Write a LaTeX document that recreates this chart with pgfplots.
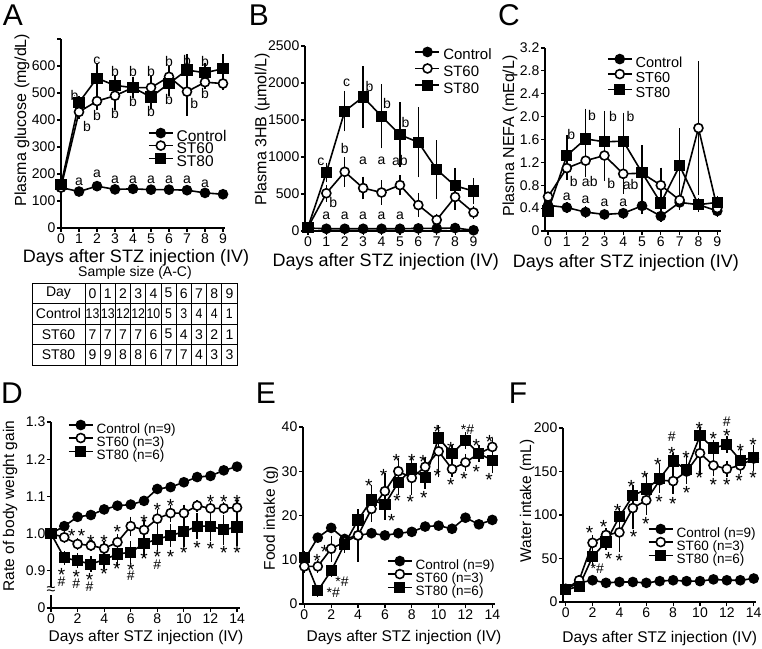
\documentclass[border=0pt]{standalone}
\usepackage{fontspec}
\setmainfont{Liberation Sans}
\usepackage{graphicx}
\usepackage{pgfplots}
\usepackage{pgfplotstable}
\pgfplotsset{compat=1.18}
\newcommand\fs[1]{\fontsize{#1}{#1}\selectfont}
\pgfplotsset{
 panel/.style={scale only axis, anchor=south west, axis lines=left,
   axis line style={-, line width=1.5pt, black},
   tick align=outside, major tick length=4pt, tick style={line width=1.2pt,black},
   ticklabel style={font=\fs{14}, inner sep=1.5pt},
   label style={font=\fs{16}},
   xlabel style={anchor=center}, ylabel style={anchor=center},
   clip=false,
   legend cell align=left,
   legend style={draw=none, fill=none, inner sep=0pt, outer sep=0pt, font=\fs{14},
     nodes={inner sep=0pt, text height=9pt, text depth=2pt}, anchor=north west,
     /tikz/every odd column/.style={column sep=3pt}},
   legend image code/.code={\draw[mark repeat=2, mark phase=2, ##1] plot coordinates {(0pt,4.5pt) (12pt,4.5pt) (24pt,4.5pt)};},
 },
 ctrl/.style={black, line width=1.6pt, mark=*, mark size=4.5pt, mark options={fill=black, solid}},
 s60/.style={black, line width=1.6pt, mark=*, mark size=4.5pt, mark options={fill=white, solid}},
 s80/.style={black, line width=1.6pt, mark=square*, mark size=4.8pt, mark options={fill=black, solid}},
 eb/.style={forget plot, only marks, mark=none, black, error bars/.cd, y dir=both, y explicit, error bar style={line width=1.4pt, black}, error mark options={mark size=4pt, line width=1.4pt, black}},
 ann/.style={only marks, mark=*, mark size=0.1pt, mark options={draw=none,fill=none}, nodes near coords, point meta=explicit symbolic,
   every node near coord/.style={anchor=center, inner sep=0pt, font=\fs{14}, black}},
 stars/.style={only marks, mark=*, mark size=0.1pt, mark options={draw=none,fill=none}, nodes near coords={*},
   every node near coord/.style={anchor=center, inner sep=0pt, font=\fs{19}, yshift=-4.3pt, black}},
}
% ---------------- data ----------------
\pgfplotstableread{
x y e
0 150 0
1 430 10
2 470 20
3 490 40
4 520 15
5 520 30
6 560 25
7 505 75
8 540 10
9 535 10
}\Asix
\pgfplotstableread{
x y e
0 160 0
1 465 10
2 555 40
3 528 25
4 520 25
5 485 30
6 535 30
7 585 45
8 575 20
9 590 40
}\Aeight
\pgfplotstableread{
x y e
0 50 0
1 510 60
2 800 145
3 580 100
4 520 110
5 620 80
6 350 110
7 150 30
8 460 120
9 250 30
}\Bsix
\pgfplotstableread{
x y e
0 50 0
1 790 80
2 1620 220
3 1810 360
4 1550 380
5 1300 385
6 1200 420
7 830 340
8 610 190
9 540 125
}\Beight
\pgfplotstableread{
x y e
0 0.45 0
1 0.41 0.03
2 0.33 0.03
3 0.29 0.03
4 0.31 0.03
5 0.44 0.08
6 0.26 0.03
7 0.50 0.03
8 0.46 0.03
9 0.35 0.03
}\Cctrl
\pgfplotstableread{
x y e
0 0.6 0
1 1.1 0.13
2 1.23 0.22
3 1.32 0.38
4 1.0 0.28
5 1.01 0.25
6 0.8 0.24
7 0.54 0.1
8 1.8 1.1
9 0.4 0.05
}\Csix
\pgfplotstableread{
x y e
0 0.35 0
1 1.32 0.28
2 1.61 0.46
3 1.56 0.47
4 1.57 0.43
5 1.02 0.41
6 0.49 0.1
7 1.14 0.59
8 0.46 0.05
9 0.5 0.05
}\Ceight
\pgfplotstableread{
x y e
0 1.0 0
1 0.99 0.005
2 0.972 0.005
3 0.968 0.005
4 0.96 0.01
5 0.977 0.01
6 1.02 0.015
7 1.01 0.015
8 1.04 0.015
9 1.055 0.012
10 1.055 0.012
11 1.075 0.005
12 1.068 0.01
13 1.068 0.005
14 1.07 0.01
}\Dsix
\pgfplotstableread{
x y e
0 1.0 0
1 0.935 0.008
2 0.927 0.01
3 0.918 0.01
4 0.93 0.015
5 0.945 0.02
6 0.95 0.02
7 0.973 0.025
8 0.985 0.02
9 0.995 0.02
10 1.005 0.03
11 1.02 0.025
12 1.02 0.03
13 1.01 0.03
14 1.018 0.04
}\Deight
\pgfplotstableread{
x y e
0 8.5 0.5
1 8.5 0.5
2 12.5 2
3 14 1
4 15.5 5
5 21.5 2
6 25.5 3.2
7 30 2
8 28.5 3
9 31 1
10 34.5 5
11 30.5 1
12 32 1
13 34 1
14 35.5 1
}\Esix
\pgfplotstableread{
x y e
0 10.5 0.5
1 3 0.5
2 7.5 0.5
3 13.5 1
4 19 1.5
5 23.5 2.5
6 22.5 2.5
7 27.5 2
8 30.5 1.5
9 28.5 1.5
10 37.5 1
11 34 1
12 37 1
13 34 1
14 32.5 2
}\Eeight
\pgfplotstableread{
x y e
0 15 0
1 25 2
2 68 4
3 77 3
4 80 18
5 108 20
6 117 12
7 140 8
8 139 10
9 150 8
10 171 20
11 157 8
12 153 5
13 157 5
14 165 10
}\Fsix
\pgfplotstableread{
x y e
0 14 0
1 18 2
2 52 5
3 69 5
4 98 5
5 122 8
6 130 12
7 142 12
8 162 5
9 152 12
10 191 5
11 177 5
12 181 5
13 163 8
14 166 10
}\Feight
\newcommand\tb[1]{\scalebox{0.88}[1]{#1}}
\begin{document}
\begin{tikzpicture}
\path[use as bounding box] (0,0) rectangle (762pt,648pt);

% ---------- A ----------
\begin{axis}[panel, at={(61pt,420pt)}, width=163.8pt, height=189pt,
  xmin=0,xmax=9.1,ymin=0,ymax=700,
  xtick={0,1,2,3,4,5,6,7,8,9}, xticklabels={0,1,2,3,4,5,6,7,8,9},
  ytick={0,100,200,300,400,500,600,700}, yticklabels={0,100,200,300,400,500,600,{}},
  xlabel={Days after STZ injection (IV)}, ylabel={Plasma glucose (mg/dL)},
  xlabel style={font=\fs{18}, at={(axis description cs:0.458,-0.159)}},
  ylabel style={at={(axis description cs:-0.238,0.571)}},
  legend style={font=\fs{15.5}, at={(axis description cs:0.531,0.526)}, row sep=-2pt}]
\addplot[eb] table[x=x,y=y,y error=e] {\Asix};
\addplot[eb] table[x=x,y=y,y error=e] {\Aeight};
\addplot[ctrl] coordinates {(0,150)(1,135)(2,155)(3,143)(4,145)(5,142)(6,142)(7,140)(8,130)(9,125)};
\addplot[s60] table[x=x,y=y] {\Asix};
\addplot[s80] table[x=x,y=y] {\Aeight};
\legend{Control,ST60,ST80}
\addplot[ann] coordinates {(1,170)[a] (2,199)[a] (3,180)[a] (4,180)[a] (5,180)[a] (6,180)[a] (7,180)[a] (8,164)[a]
 (0.75,490)[b] (1.45,376)[b] (2,618)[c] (2,418)[b] (3,578)[b] (3,423)[b] (4,578)[b] (4,467)[b]
 (5,578)[b] (5,430)[b] (6,615)[b] (6,475)[b] (7,622)[b] (7.4,460)[b] (8,615)[b] (8,497)[b]};
\end{axis}

% ---------- B ----------
\begin{axis}[panel, at={(305pt,417pt)}, width=172.2pt, height=185pt,
  xmin=-0.16,xmax=9.2,ymin=0,ymax=2500,
  xtick={0,1,2,3,4,5,6,7,8,9}, xticklabels={0,1,2,3,4,5,6,7,8,9},
  ytick={0,500,1000,1500,2000,2500}, yticklabels={0,500,1000,1500,2000,2500},
  xlabel={Days after STZ injection (IV)}, ylabel={Plasma 3HB (µmol/L)},
  xlabel style={font=\fs{18}, at={(axis description cs:0.469,-0.168)}},
  ylabel style={at={(axis description cs:-0.249,0.551)}},
  legend style={font=\fs{15}, at={(axis description cs:0.637,0.992)}, row sep=2pt}]
\addplot[eb] table[x=x,y=y,y error=e] {\Bsix};
\addplot[eb] table[x=x,y=y,y error=e] {\Beight};
\addplot[ctrl] coordinates {(0,40)(1,30)(2,30)(3,30)(4,30)(5,30)(6,35)(7,35)(8,40)(9,10)};
\addplot[s60] table[x=x,y=y] {\Bsix};
\addplot[s80] table[x=x,y=y] {\Beight};
\legend{Control,ST60,ST80}
\addplot[ann] coordinates {(1,210)[a] (2,210)[a] (3,210)[a] (4,210)[a] (5,210)[a]
 (0.7,930)[c] (1.37,390)[b] (2,1120)[b] (2.1,2000)[c] (3.35,1950)[b] (4.3,1720)[b] (5.3,1470)[b]
 (3,950)[a] (4,950)[a] (5,950)[ab]};
\end{axis}

% ---------- C ----------
\begin{axis}[panel, at={(545pt,417pt)}, width=176pt, height=183pt,
  xmin=-0.16,xmax=9.2,ymin=0,ymax=3.2,
  xtick={0,1,2,3,4,5,6,7,8,9}, xticklabels={0,1,2,3,4,5,6,7,8,9},
  ytick={0,0.4,0.8,1.2,1.6,2.0,2.4,2.8,3.2}, yticklabels={0,0.4,0.8,1.2,1.6,2.0,2.4,2.8,3.2},
  xlabel={Days after STZ injection (IV)}, ylabel={Plasma NEFA (mEq/L)},
  xlabel style={font=\fs{18}, at={(axis description cs:0.46,-0.175)}},
  ylabel style={at={(axis description cs:-0.199,0.52)}},
  legend style={font=\fs{14.5}, at={(axis description cs:0.352,0.964)}, row sep=0.5pt}]
\addplot[eb] table[x=x,y=y,y error=e] {\Cctrl};
\addplot[eb] table[x=x,y=y,y error=e] {\Csix};
\addplot[eb] table[x=x,y=y,y error=e] {\Ceight};
\addplot[ctrl] table[x=x,y=y] {\Cctrl};
\addplot[s60] table[x=x,y=y] {\Csix};
\addplot[s80] table[x=x,y=y] {\Ceight};
\legend{Control,ST60,ST80}
\addplot[ann] coordinates {(1,0.6)[a] (2,0.54)[a] (3,0.49)[a] (4,0.49)[a]
 (1.24,1.69)[b] (2.34,2.02)[b] (3.46,2.0)[b] (4.39,2.0)[b]
 (1.37,0.86)[b] (2.22,0.86)[ab] (3.37,0.83)[b] (4.39,0.81)[ab]};
\end{axis}

% ---------- D ----------
\begin{axis}[panel, at={(51pt,40pt)}, width=188.7pt, height=186pt,
  xmin=0,xmax=14.2,ymin=0.8,ymax=1.3,
  xtick={0,2,4,6,8,10,12,14}, xticklabels={0,2,4,6,8,10,12,14},
  ytick={0.8,0.9,1.0,1.1,1.2,1.3}, yticklabels={0,0.9,1.0,1.1,1.2,1.3},
  xlabel={Days after STZ injection (IV)}, ylabel={Rate of body weight gain},
  label style={font=\fs{15.5}},
  xlabel style={at={(axis description cs:0.503,-0.161)}},
  ylabel style={at={(axis description cs:-0.217,0.548)}},
  legend style={font=\fs{13.5}, at={(axis description cs:0.09,1.008)}, row sep=-1.5pt}]
\addplot[eb] table[x=x,y=y,y error=e] {\Dsix};
\addplot[eb] table[x=x,y=y,y error=e] {\Deight};
\addplot[ctrl] coordinates {(0,1.0)(1,1.02)(2,1.045)(3,1.05)(4,1.065)(5,1.075)(6,1.078)(7,1.088)(8,1.12)(9,1.125)(10,1.138)(11,1.152)(12,1.155)(13,1.17)(14,1.18)};
\addplot[s60] table[x=x,y=y] {\Dsix};
\addplot[s80] table[x=x,y=y] {\Deight};
\legend{Control (n=9),ST60 (n=3),ST80 (n=6)}
\addplot[stars] coordinates {(1.56,1.004)(2.3,1.004)(3,0.99)(4,0.99)(5,1.016)(7,1.043)(8,1.074)(9,1.087)(12,1.096)(13,1.096)(14,1.096)
 (0.8,0.9)(1.9,0.894)(2.9,0.887)(4,0.904)(4.95,0.917)(6,0.913)(7,0.943)(8,0.948)(9,0.948)(10,0.96)(11,0.974)(12,0.97)(13,0.96)(14,0.96)};
\addplot[ann] coordinates {(0.8,0.87)[\#] (1.9,0.864)[\#] (2.9,0.857)[\#] (6,0.887)[\#] (8,0.917)[\#]};
\node[fill=white, inner sep=0.3pt, font=\fs{16}] at (axis cs:0,0.846) {≈};
\end{axis}

% ---------- E ----------
\begin{axis}[panel, at={(303pt,44pt)}, width=192pt, height=177pt,
  xmin=-0.1,xmax=14.2,ymin=0,ymax=40,
  xtick={0,2,4,6,8,10,12,14}, xticklabels={0,2,4,6,8,10,12,14},
  ytick={0,10,20,30,40}, yticklabels={0,10,20,30,40},
  xlabel={Days after STZ injection (IV)}, ylabel={Food intake (g)},
  label style={font=\fs{15.5}},
  xlabel style={at={(axis description cs:0.526,-0.192)}},
  ylabel style={at={(axis description cs:-0.167,0.486)}},
  legend style={font=\fs{13.5}, at={(axis description cs:0.4375,0.268)}, row sep=-1.5pt}]
\addplot[eb] table[x=x,y=y,y error=e] {\Esix};
\addplot[eb] table[x=x,y=y,y error=e] {\Eeight};
\addplot[ctrl] coordinates {(0,10)(1,15)(2,17.2)(3,14.7)(4,15.5)(5,16)(6,15.5)(7,16)(8,16.3)(9,17.5)(10,17.7)(11,17)(12,19.5)(13,18)(14,19)};
\addplot[s60] table[x=x,y=y] {\Esix};
\addplot[s80] table[x=x,y=y] {\Eeight};
\legend{Control (n=9),ST60 (n=3),ST80 (n=6)}
\addplot[stars] coordinates {(0.95,10.8)(1.5,12.8)(4.8,27.7)(5.9,30)(6.85,33.4)(8,33.4)(8.85,33)(9.9,39.8)(10.9,36)(12.8,36.8)(13.8,37.5)
 (6.5,19.8)(6.9,24.2)(7.9,24)(8.9,25)(9.9,29.8)(10.9,27.9)(11.9,29.2)(12.8,30.7)(13.75,29)};
\addplot[ann] coordinates {(2.8,5)[*\#] (2.15,2.5)[*\#] (12.15,39.5)[*\#]};
\end{axis}

% ---------- F ----------
\begin{axis}[panel, at={(563pt,46pt)}, width=193.4pt, height=174pt,
  xmin=-0.2,xmax=14.2,ymin=0,ymax=200,
  xtick={0,2,4,6,8,10,12,14}, xticklabels={0,2,4,6,8,10,12,14},
  ytick={0,50,100,150,200}, yticklabels={0,50,100,150,200},
  xlabel={Days after STZ injection (IV)}, ylabel={Water intake (mL)},
  label style={font=\fs{15.5}},
  xlabel style={at={(axis description cs:0.50,-0.207)}},
  ylabel style={at={(axis description cs:-0.186,0.58)}},
  legend style={font=\fs{13.5}, at={(axis description cs:0.439,0.445)}, row sep=-1.5pt}]
\addplot[eb] table[x=x,y=y,y error=e] {\Fsix};
\addplot[eb] table[x=x,y=y,y error=e] {\Feight};
\addplot[ctrl] coordinates {(0,15)(1,22)(2,25)(3,22)(4,23)(5,23)(6,22)(7,24)(8,25)(9,24)(10,24)(11,26)(12,25)(13,25)(14,27)};
\addplot[s60] table[x=x,y=y] {\Fsix};
\addplot[s80] table[x=x,y=y] {\Feight};
\legend{Control (n=9),ST60 (n=3),ST80 (n=6)}
\addplot[stars] coordinates {(1.78,84)(2.82,91.6)(3.86,110)(4.88,137.5)(5.9,148)(6.86,162)(7.9,175)(8.96,170)(9.95,204)(11,192)(12,196)(13,179)(13.96,185)
 (3.2,54)(4,52)(5.05,80)(5.97,95)(6.95,119.5)(7.97,117.6)(9,130)(9.95,147)(11,139)(12,139)(12.9,144)(13.96,147)};
\addplot[ann] coordinates {(7.9,190)[\#] (12,207)[\#] (2.35,38)[*\#]};
\end{axis}

% ---------- panel letters ----------
\node[font=\fs{30}] at (13pt,633pt) {A};
\node[font=\fs{30}] at (259pt,633pt) {B};
\node[font=\fs{30}] at (509pt,633pt) {C};
\node[font=\fs{30}] at (12pt,255pt) {D};
\node[font=\fs{30}] at (266pt,255pt) {E};
\node[font=\fs{30}] at (518pt,255pt) {F};

% ---------- table ----------
\begin{scope}[x=1pt,y=1pt]
\node[font=\fs{14}] at (135,375) {Sample size (A-C)};
\draw[line width=0.8pt] (32,283) rectangle (237,365);
\foreach \yy in {303.5,324,344.5} \draw[line width=0.8pt] (32,\yy) -- (237,\yy);
\draw[line width=0.8pt] (85,283) -- (85,365);
\foreach \k in {1,...,9} \draw[line width=0.8pt] ({85+15.2*\k},283) -- ({85+15.2*\k},365);
\node[font=\fs{14}] at (58.5,354.75) {Day};
\node[font=\fs{14}] at (58.5,334.25) {Control};
\node[font=\fs{14}] at (58.5,313.75) {ST60};
\node[font=\fs{14}] at (58.5,293.25) {ST80};
\foreach \v [count=\i from 0] in {0,1,2,3,4,5,6,7,8,9}
  \node[font=\fs{14}] at ({85+15.2*(\i+0.5)},354.75) {\v};
\foreach \v [count=\i from 0] in {13,13,12,12,10,5,3,4,4,1}
  \node[font=\fs{14}] at ({85+15.2*(\i+0.5)},334.25) {\tb{\v}};
\foreach \v [count=\i from 0] in {7,7,7,7,6,5,4,3,2,1}
  \node[font=\fs{14}] at ({85+15.2*(\i+0.5)},313.75) {\v};
\foreach \v [count=\i from 0] in {9,9,8,8,6,7,7,4,3,3}
  \node[font=\fs{14}] at ({85+15.2*(\i+0.5)},293.25) {\v};
\end{scope}
\end{tikzpicture}
\end{document}
